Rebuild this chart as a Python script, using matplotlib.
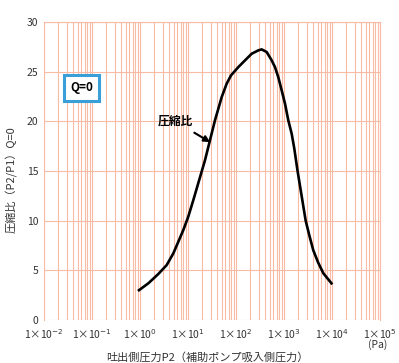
import numpy as np
import matplotlib.pyplot as plt

plt.rcParams['font.family'] = ['Noto Sans CJK JP', 'DejaVu Sans']

# 吐出側圧力 P2 (Pa) と 圧縮比
p2 = [0.953, 1.49, 2.40, 3.60, 4.94, 6.28, 7.98, 10.1, 12.9, 15.2, 22.6, 28.7,
      36.5, 50.4, 64.0, 78.7, 112, 154, 212, 292, 343, 437, 555, 649, 760, 895,
      1050, 1230, 1445, 1640, 1905, 2830, 3365, 4070, 5130, 6610, 9770]
ratio = [3.0, 3.69, 4.62, 5.53, 6.70, 7.87, 9.05, 10.38, 12.06, 13.24, 16.08,
         18.09, 20.1, 22.44, 23.79, 24.62, 25.46, 26.13, 26.80, 27.14, 27.24,
         26.97, 26.13, 25.46, 24.45, 23.12, 21.78, 20.1, 18.76, 17.26, 15.1,
         10.0, 8.54, 7.03, 5.8, 4.7, 3.69]

xticks = [1e-2, 1e-1, 1e0, 1e1, 1e2, 1e3, 1e4, 1e5]
xticklabels = ['1×10$^{-2}$', '1×10$^{-1}$', '1×10$^{0}$', '1×10$^{1}$',
               '1×10$^{2}$', '1×10$^{3}$', '1×10$^{4}$', '1×10$^{5}$']
yticks = [0, 5, 10, 15, 20, 25, 30]

grid_c = '#f8bca4'
txt_c = '#333333'

fig = plt.figure(figsize=(3.99, 3.63), dpi=100)
ax = fig.add_axes([0.1103, 0.1185, 0.842, 0.821])

ax.set_xscale('log')
ax.set_xlim(1e-2, 1e5)
ax.set_ylim(0, 30)

# グリッド
minor = [m * 10.0 ** e for e in range(-2, 5) for m in range(2, 10)]
ax.set_xticks(minor, minor=True)
ax.set_xticks(xticks)
ax.set_xticklabels(xticklabels)
ax.set_yticks(yticks)
ax.grid(True, which='both', axis='x', color=grid_c, lw=0.8)
ax.grid(True, which='major', axis='y', color=grid_c, lw=0.8)
ax.set_axisbelow(True)
ax.tick_params(which='both', length=0, labelsize=7.5, colors=txt_c, pad=4)
ax.tick_params(axis='x', pad=5)
for s in ['left', 'top', 'right']:
    ax.spines[s].set_color(grid_c)
    ax.spines[s].set_linewidth(0.8)
ax.spines['bottom'].set_visible(False)

ax.plot(p2, ratio, color='black', lw=1.9, solid_joinstyle='round')

# Q=0 ボックス
ax.text(0.0604, 23.37, 'Q=0', fontsize=8.5, fontweight='bold', ha='center', va='center',
        bbox=dict(boxstyle='square,pad=0.55', fc='white', ec='#3a9fd8', lw=2.2))

ax.annotate('圧縮比', xy=(29, 17.9), xytext=(5.4, 20.0), fontsize=8.5,
            fontweight='bold', ha='center', va='center',
            arrowprops=dict(arrowstyle='-|>', color='black', lw=1.5,
                            mutation_scale=9, shrinkA=3, shrinkB=0))

fig.text(0.03, 0.504, '圧縮比（P2/P1）Q=0', fontsize=8, color=txt_c,
         rotation=90, ha='center', va='center')
fig.text(0.52, 0.0165, '吐出側圧力P2（補助ポンプ吸入側圧力）', fontsize=8,
         color=txt_c, ha='center', va='center')
fig.text(0.947, 0.05, '(Pa)', fontsize=7.5, color=txt_c, ha='center', va='center')

fig.savefig('out.png', dpi=100)
